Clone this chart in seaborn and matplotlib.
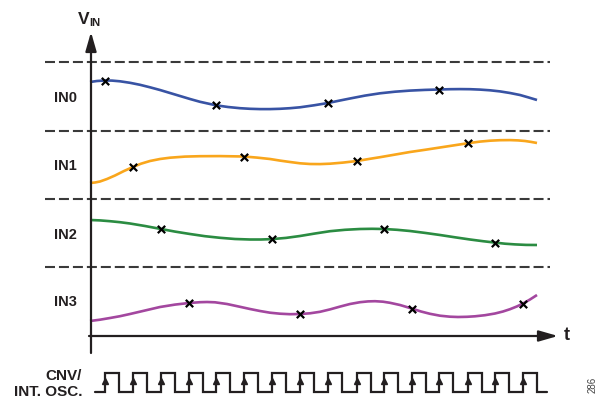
import numpy as np
import pandas as pd
import matplotlib
matplotlib.use("Agg")
import matplotlib.pyplot as plt
import seaborn as sns

# ---------------- data (pixel-like units) ----------------
channels = ["IN0", "IN1", "IN2", "IN3"]
colors = ["#3853a4", "#f9a61c", "#2b8c42", "#a3479f"]

in0_x = [90, 97, 105, 112, 120, 130, 140, 150, 160, 170, 180, 190, 200, 210, 216, 228, 240, 250, 260, 270,
         280, 290, 300, 314, 328, 340, 350, 365, 380, 395, 410, 425, 439, 450, 460, 470, 480, 490, 500,
         510, 520, 528, 537]
in0_y = [82, 81, 80.5, 80.6, 81.3, 82.8, 84.8, 87.3, 90, 93, 96, 99, 101.8, 104, 105.3, 107, 108.2, 108.8,
         109.1, 109.1, 108.8, 108.2, 107.3, 105.3, 103, 100.5, 98.5, 95.6, 93.3, 91.7, 90.6, 89.9, 89.5,
         89.2, 89.1, 89.2, 89.6, 90.3, 91.4, 93, 95, 97.3, 100]

in1_x = [90, 95, 100, 107, 115, 124, 133, 141, 150, 160, 170, 185, 200, 220, 244, 257, 270, 280, 290, 300,
         310, 320, 330, 343, 357, 370, 380, 395, 410, 425, 440, 455, 468, 480, 490, 500, 510, 518, 525,
         531, 537]
in1_y = [183, 182.5, 181.5, 179, 175.5, 171, 167, 163.7, 161, 159, 157.7, 156.6, 156.2, 156.1, 156.5, 157.6,
         159, 160.6, 162, 163.3, 164, 164.1, 163.7, 162.6, 161, 158.8, 157.2, 154.6, 152, 149.8, 147.5,
         145.2, 143.2, 141.6, 140.7, 140.2, 140.1, 140.4, 141, 141.9, 143]

in2_x = [90, 100, 110, 120, 130, 145, 161, 175, 190, 205, 220, 235, 250, 261, 272, 286, 300, 315, 330, 345,
         360, 372, 384, 397, 410, 425, 440, 455, 470, 483, 495, 505, 515, 526, 537]
in2_y = [220, 220.4, 221.2, 222.2, 223.5, 226, 229, 231.6, 234, 236.2, 237.8, 239, 239.5, 239.5, 239.1,
         237.9, 236, 233.5, 231.2, 229.8, 229, 228.8, 229, 229.8, 231, 232.9, 235, 237.3, 239.5, 241.2,
         242.6, 243.7, 244.4, 244.9, 245]

in3_x = [90, 100, 110, 120, 130, 145, 160, 175, 189, 200, 207, 215, 227, 240, 250, 260, 270, 280, 290, 300,
         310, 320, 330, 340, 350, 360, 368, 375, 383, 390, 400, 412, 421, 430, 440, 450, 458, 467, 475,
         485, 495, 503, 510, 517, 523, 530, 537]
in3_y = [321, 319.7, 318, 316.2, 314, 310.5, 307, 304.6, 303, 302.2, 302, 302.3, 304, 306.8, 309, 311,
         312.7, 313.7, 314.2, 314, 313.3, 311.8, 309.4, 306.6, 304, 302.2, 301.4, 301.2, 301.7, 302.8, 305,
         308.6, 311.5, 313.8, 315.7, 316.7, 317, 316.8, 316.3, 315.2, 313.5, 311.5, 309.2, 306.4, 303.5,
         299.5, 295]

# sample instants (rising edges of CNV), one channel after another
sample_x = [105, 133, 161, 189, 216, 244, 272, 300, 328, 357, 384, 412, 439, 468, 495, 523]

band_lines = [62, 131, 199, 267]           # dashed separators
label_y = [98, 166, 235, 302]               # channel label rows

# ---------------- build long-form table ----------------
frames = []
for name, xs, ys in zip(channels, [in0_x, in1_x, in2_x, in3_x], [in0_y, in1_y, in2_y, in3_y]):
    frames.append(pd.DataFrame({"t": xs, "v": ys, "ch": name}))
df = pd.concat(frames, ignore_index=True)

samples = []
for k, sx in enumerate(sample_x):
    ch = channels[k % 4]
    sub = df[df.ch == ch]
    samples.append({"t": sx, "v": float(np.interp(sx, sub.t, sub.v)), "ch": ch})
sdf = pd.DataFrame(samples)

# ---------------- figure ----------------
sns.set_theme(style="white")
plt.rcParams["font.family"] = ["Liberation Sans", "DejaVu Sans"]

fig = plt.figure(figsize=(5.98, 4.01), dpi=100)
ax = fig.add_axes([0, 0, 1, 1])
ax.set_xlim(0, 598)
ax.set_ylim(401, 0)
ax.axis("off")

dark = "#231f20"

# dashed separators
ax.hlines(band_lines, 45, 550, colors="#3a3a3a", linewidth=1.5,
          linestyles=[(0, (4.8, 1.9))])

# curves
sns.lineplot(data=df, x="t", y="v", hue="ch", palette=dict(zip(channels, colors)),
             linewidth=1.9, sort=True, estimator=None, legend=False, ax=ax,
             solid_joinstyle="round", solid_capstyle="butt")

# sample markers
ax.scatter(sdf.t, sdf.v, marker="x", s=28, color="black", linewidths=1.6, zorder=5)

# axes with arrows
ax.annotate("", xy=(91, 32), xytext=(91, 353),
            arrowprops=dict(arrowstyle="-|>,head_length=1.15,head_width=0.33",
                            mutation_scale=10, lw=1.6, color=dark,
                            shrinkA=0, shrinkB=0))
ax.annotate("", xy=(558, 336), xytext=(89, 336),
            arrowprops=dict(arrowstyle="-|>,head_length=1.15,head_width=0.33",
                            mutation_scale=10, lw=1.6, color=dark,
                            shrinkA=0, shrinkB=0))

# axis labels
ax.text(89, 19, "V", fontsize=12.5, fontweight="bold", color=dark, ha="right", va="center")
ax.text(89.5, 23.5, "IN", fontsize=8, fontweight="bold", color=dark, ha="left", va="center")
ax.text(564, 336, "t", fontsize=13, fontweight="bold", color=dark, ha="left", va="center")

# channel labels
for name, ly in zip(channels, label_y):
    ax.text(54, ly, name, fontsize=10.5, fontweight="bold", color=dark, ha="left", va="center")

# clock
clk_low, clk_high, clk_high_w = 392, 373, 14
cx = [95]
cy = [clk_low]
for r in sample_x:
    cx += [r, r, r + clk_high_w, r + clk_high_w]
    cy += [clk_low, clk_high, clk_high, clk_low]
cx.append(547)
cy.append(clk_low)
ax.plot(cx, cy, color=dark, lw=1.6, solid_joinstyle="miter")
ax.plot(sample_x, [381] * len(sample_x), linestyle="none", marker="^",
        markersize=5, color=dark)

ax.text(82, 376, "CNV/", fontsize=11, fontweight="bold", color=dark, ha="right", va="center")
ax.text(82, 392, "INT. OSC.", fontsize=11, fontweight="bold", color=dark, ha="right", va="center")

ax.text(593, 385, "286", fontsize=7, color="#444444", rotation=90, ha="center", va="center")

fig.savefig("out.png", dpi=100)
